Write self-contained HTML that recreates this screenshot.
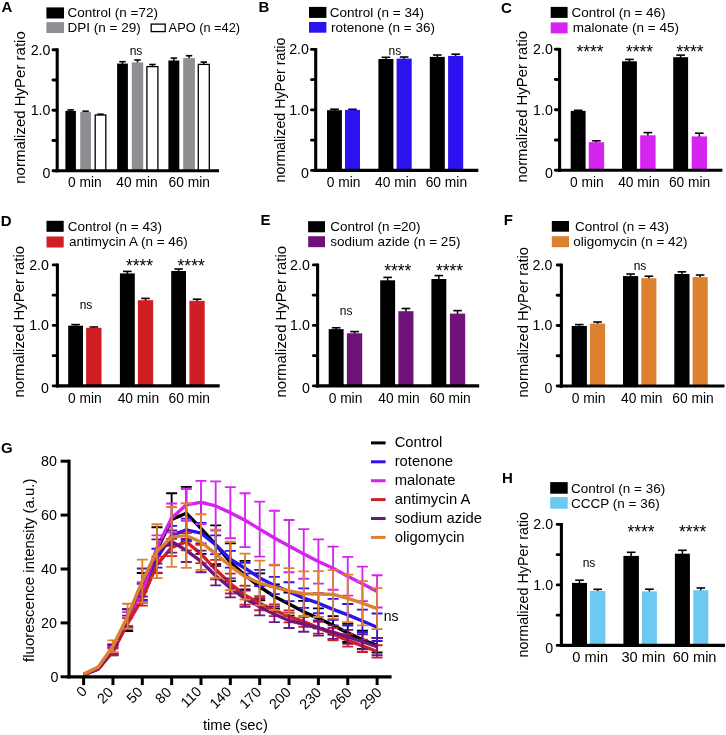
<!DOCTYPE html>
<html><head><meta charset="utf-8"><title>Figure</title>
<style>
html,body{margin:0;padding:0;background:#fff;}
body{width:726px;height:735px;overflow:hidden;font-family:"Liberation Sans", sans-serif;}
svg{display:block;font-family:"Liberation Sans", sans-serif;will-change:transform;}
svg text{fill:#000;font-family:"Liberation Sans", sans-serif;}
</style></head><body>
<svg width="726" height="735" viewBox="0 0 726 735">
<rect x="0" y="0" width="726" height="735" fill="#fff"/>
<g id="panelA">
<line x1="70.65" y1="111.90" x2="70.65" y2="109.90" stroke="#000000" stroke-width="1.5" stroke-linecap="butt"/>
<line x1="67.45" y1="109.90" x2="73.85" y2="109.90" stroke="#000000" stroke-width="1.6" stroke-linecap="butt"/>
<rect x="65.40" y="110.90" width="10.50" height="59.80" fill="#000000"/>
<line x1="85.60" y1="112.90" x2="85.60" y2="111.20" stroke="#000" stroke-width="1.5" stroke-linecap="butt"/>
<line x1="82.40" y1="111.20" x2="88.80" y2="111.20" stroke="#000" stroke-width="1.6" stroke-linecap="butt"/>
<rect x="80.20" y="111.90" width="10.80" height="58.80" fill="#908e93"/>
<line x1="100.50" y1="115.40" x2="100.50" y2="114.20" stroke="#000" stroke-width="1.5" stroke-linecap="butt"/>
<line x1="97.30" y1="114.20" x2="103.70" y2="114.20" stroke="#000" stroke-width="1.6" stroke-linecap="butt"/>
<rect x="95.20" y="115.00" width="10.60" height="55.70" fill="#ffffff" stroke="#000" stroke-width="1.3"/>
<line x1="122.50" y1="64.60" x2="122.50" y2="61.70" stroke="#000000" stroke-width="1.5" stroke-linecap="butt"/>
<line x1="119.30" y1="61.70" x2="125.70" y2="61.70" stroke="#000000" stroke-width="1.6" stroke-linecap="butt"/>
<rect x="117.10" y="63.60" width="10.80" height="107.10" fill="#000000"/>
<line x1="137.50" y1="63.40" x2="137.50" y2="60.00" stroke="#000" stroke-width="1.5" stroke-linecap="butt"/>
<line x1="134.30" y1="60.00" x2="140.70" y2="60.00" stroke="#000" stroke-width="1.6" stroke-linecap="butt"/>
<rect x="131.80" y="62.40" width="11.40" height="108.30" fill="#908e93"/>
<line x1="152.40" y1="67.00" x2="152.40" y2="64.50" stroke="#000" stroke-width="1.5" stroke-linecap="butt"/>
<line x1="149.20" y1="64.50" x2="155.60" y2="64.50" stroke="#000" stroke-width="1.6" stroke-linecap="butt"/>
<rect x="146.90" y="66.60" width="11.00" height="104.10" fill="#ffffff" stroke="#000" stroke-width="1.3"/>
<line x1="173.85" y1="61.50" x2="173.85" y2="58.10" stroke="#000000" stroke-width="1.5" stroke-linecap="butt"/>
<line x1="170.65" y1="58.10" x2="177.05" y2="58.10" stroke="#000000" stroke-width="1.6" stroke-linecap="butt"/>
<rect x="168.40" y="60.50" width="10.90" height="110.20" fill="#000000"/>
<line x1="189.05" y1="59.10" x2="189.05" y2="55.70" stroke="#000" stroke-width="1.5" stroke-linecap="butt"/>
<line x1="185.85" y1="55.70" x2="192.25" y2="55.70" stroke="#000" stroke-width="1.6" stroke-linecap="butt"/>
<rect x="183.20" y="58.10" width="11.70" height="112.60" fill="#908e93"/>
<line x1="203.80" y1="64.80" x2="203.80" y2="62.10" stroke="#000" stroke-width="1.5" stroke-linecap="butt"/>
<line x1="200.60" y1="62.10" x2="207.00" y2="62.10" stroke="#000" stroke-width="1.6" stroke-linecap="butt"/>
<rect x="198.30" y="64.40" width="11.00" height="106.30" fill="#ffffff" stroke="#000" stroke-width="1.3"/>
<line x1="57.20" y1="48.45" x2="57.20" y2="172.25" stroke="#000" stroke-width="3.1" stroke-linecap="butt"/>
<line x1="55.65" y1="170.70" x2="219.00" y2="170.70" stroke="#000" stroke-width="3.1" stroke-linecap="butt"/>
<line x1="53.00" y1="49.70" x2="56.90" y2="49.70" stroke="#000" stroke-width="2.9" stroke-linecap="round"/>
<line x1="53.00" y1="79.95" x2="56.90" y2="79.95" stroke="#000" stroke-width="2.9" stroke-linecap="round"/>
<line x1="53.00" y1="110.20" x2="56.90" y2="110.20" stroke="#000" stroke-width="2.9" stroke-linecap="round"/>
<line x1="53.00" y1="140.45" x2="56.90" y2="140.45" stroke="#000" stroke-width="2.9" stroke-linecap="round"/>
<line x1="53.00" y1="170.70" x2="56.90" y2="170.70" stroke="#000" stroke-width="2.9" stroke-linecap="round"/>
<text x="50.40" y="54.60" font-size="14.2" text-anchor="end" font-weight="normal" >2.0</text>
<text x="50.40" y="115.10" font-size="14.2" text-anchor="end" font-weight="normal" >1.0</text>
<text x="50.40" y="178.10" font-size="14.2" text-anchor="end" font-weight="normal" >0</text>
<text transform="translate(24.50,107.50) rotate(-90)" font-size="15" text-anchor="middle">normalized HyPer ratio</text>
<text x="84.80" y="187.30" font-size="13.8" text-anchor="middle" font-weight="normal" >0 min</text>
<text x="137.00" y="187.30" font-size="13.8" text-anchor="middle" font-weight="normal" >40 min</text>
<text x="189.20" y="187.30" font-size="13.8" text-anchor="middle" font-weight="normal" >60 min</text>
<text x="136.00" y="54.60" font-size="12" text-anchor="middle" font-weight="normal" >ns</text>
<text x="1.60" y="12.00" font-size="15" text-anchor="start" font-weight="bold" >A</text>
<rect x="46.40" y="7.40" width="17.60" height="11.10" fill="#000000"/>
<text x="67.60" y="17.40" font-size="13.5" text-anchor="start" font-weight="normal" >Control (n =72)</text>
<rect x="46.40" y="22.10" width="17.60" height="10.90" fill="#908e93"/>
<text x="67.60" y="31.80" font-size="13.5" text-anchor="start" font-weight="normal" >DPI (n = 29)</text>
<rect x="151.20" y="24.10" width="14.00" height="7.50" fill="#ffffff" stroke="#000" stroke-width="1.3"/>
<text x="168.60" y="31.60" font-size="12.8" text-anchor="start" font-weight="normal" >APO (n =42)</text>
</g>
<g id="panelB">
<line x1="334.45" y1="111.20" x2="334.45" y2="109.20" stroke="#000000" stroke-width="1.5" stroke-linecap="butt"/>
<line x1="330.15" y1="109.20" x2="338.75" y2="109.20" stroke="#000000" stroke-width="1.6" stroke-linecap="butt"/>
<rect x="327.00" y="110.20" width="14.90" height="60.20" fill="#000000"/>
<line x1="352.50" y1="110.90" x2="352.50" y2="109.30" stroke="#000" stroke-width="1.5" stroke-linecap="butt"/>
<line x1="348.20" y1="109.30" x2="356.80" y2="109.30" stroke="#000" stroke-width="1.6" stroke-linecap="butt"/>
<rect x="345.00" y="109.90" width="15.00" height="60.50" fill="#2c12ee"/>
<line x1="385.90" y1="60.00" x2="385.90" y2="57.30" stroke="#000000" stroke-width="1.5" stroke-linecap="butt"/>
<line x1="381.60" y1="57.30" x2="390.20" y2="57.30" stroke="#000000" stroke-width="1.6" stroke-linecap="butt"/>
<rect x="378.40" y="59.00" width="15.00" height="111.40" fill="#000000"/>
<line x1="404.15" y1="59.60" x2="404.15" y2="57.00" stroke="#000" stroke-width="1.5" stroke-linecap="butt"/>
<line x1="399.85" y1="57.00" x2="408.45" y2="57.00" stroke="#000" stroke-width="1.6" stroke-linecap="butt"/>
<rect x="396.60" y="58.60" width="15.10" height="111.80" fill="#2c12ee"/>
<line x1="437.30" y1="57.90" x2="437.30" y2="55.00" stroke="#000000" stroke-width="1.5" stroke-linecap="butt"/>
<line x1="433.00" y1="55.00" x2="441.60" y2="55.00" stroke="#000000" stroke-width="1.6" stroke-linecap="butt"/>
<rect x="429.80" y="56.90" width="15.00" height="113.50" fill="#000000"/>
<line x1="455.65" y1="56.90" x2="455.65" y2="54.20" stroke="#000" stroke-width="1.5" stroke-linecap="butt"/>
<line x1="451.35" y1="54.20" x2="459.95" y2="54.20" stroke="#000" stroke-width="1.6" stroke-linecap="butt"/>
<rect x="448.10" y="55.90" width="15.10" height="114.50" fill="#2c12ee"/>
<line x1="315.70" y1="48.15" x2="315.70" y2="171.95" stroke="#000" stroke-width="3.1" stroke-linecap="butt"/>
<line x1="314.15" y1="170.40" x2="478.30" y2="170.40" stroke="#000" stroke-width="3.1" stroke-linecap="butt"/>
<line x1="311.50" y1="49.40" x2="315.40" y2="49.40" stroke="#000" stroke-width="2.9" stroke-linecap="round"/>
<line x1="311.50" y1="79.65" x2="315.40" y2="79.65" stroke="#000" stroke-width="2.9" stroke-linecap="round"/>
<line x1="311.50" y1="109.90" x2="315.40" y2="109.90" stroke="#000" stroke-width="2.9" stroke-linecap="round"/>
<line x1="311.50" y1="140.15" x2="315.40" y2="140.15" stroke="#000" stroke-width="2.9" stroke-linecap="round"/>
<line x1="311.50" y1="170.40" x2="315.40" y2="170.40" stroke="#000" stroke-width="2.9" stroke-linecap="round"/>
<text x="308.90" y="54.30" font-size="14.2" text-anchor="end" font-weight="normal" >2.0</text>
<text x="308.90" y="114.80" font-size="14.2" text-anchor="end" font-weight="normal" >1.0</text>
<text x="308.90" y="177.80" font-size="14.2" text-anchor="end" font-weight="normal" >0</text>
<text transform="translate(285.00,110.00) rotate(-90)" font-size="14.25" text-anchor="middle">normalized HyPer ratio</text>
<text x="343.60" y="187.00" font-size="13.8" text-anchor="middle" font-weight="normal" >0 min</text>
<text x="395.70" y="187.00" font-size="13.8" text-anchor="middle" font-weight="normal" >40 min</text>
<text x="446.40" y="187.00" font-size="13.8" text-anchor="middle" font-weight="normal" >60 min</text>
<text x="394.80" y="54.80" font-size="12" text-anchor="middle" font-weight="normal" >ns</text>
<text x="258.40" y="12.00" font-size="15" text-anchor="start" font-weight="bold" >B</text>
<rect x="309.00" y="6.90" width="17.40" height="11.00" fill="#000000"/>
<text x="329.80" y="17.20" font-size="13.5" text-anchor="start" font-weight="normal" >Control (n = 34)</text>
<rect x="309.00" y="22.00" width="17.40" height="10.70" fill="#2c12ee"/>
<text x="331.00" y="31.80" font-size="13.5" text-anchor="start" font-weight="normal" >rotenone (n = 36)</text>
</g>
<g id="panelC">
<line x1="578.15" y1="111.90" x2="578.15" y2="110.30" stroke="#000000" stroke-width="1.5" stroke-linecap="butt"/>
<line x1="573.85" y1="110.30" x2="582.45" y2="110.30" stroke="#000000" stroke-width="1.6" stroke-linecap="butt"/>
<rect x="570.70" y="110.90" width="14.90" height="59.40" fill="#000000"/>
<line x1="596.40" y1="143.20" x2="596.40" y2="140.80" stroke="#000" stroke-width="1.5" stroke-linecap="butt"/>
<line x1="592.10" y1="140.80" x2="600.70" y2="140.80" stroke="#000" stroke-width="1.6" stroke-linecap="butt"/>
<rect x="588.70" y="142.20" width="15.40" height="28.10" fill="#d624f0"/>
<line x1="629.45" y1="62.30" x2="629.45" y2="59.40" stroke="#000000" stroke-width="1.5" stroke-linecap="butt"/>
<line x1="625.15" y1="59.40" x2="633.75" y2="59.40" stroke="#000000" stroke-width="1.6" stroke-linecap="butt"/>
<rect x="622.00" y="61.30" width="14.90" height="109.00" fill="#000000"/>
<line x1="647.90" y1="136.30" x2="647.90" y2="132.60" stroke="#000" stroke-width="1.5" stroke-linecap="butt"/>
<line x1="643.60" y1="132.60" x2="652.20" y2="132.60" stroke="#000" stroke-width="1.6" stroke-linecap="butt"/>
<rect x="640.20" y="135.30" width="15.40" height="35.00" fill="#d624f0"/>
<line x1="680.65" y1="58.20" x2="680.65" y2="55.10" stroke="#000000" stroke-width="1.5" stroke-linecap="butt"/>
<line x1="676.35" y1="55.10" x2="684.95" y2="55.10" stroke="#000000" stroke-width="1.6" stroke-linecap="butt"/>
<rect x="673.20" y="57.20" width="14.90" height="113.10" fill="#000000"/>
<line x1="699.35" y1="137.40" x2="699.35" y2="133.20" stroke="#000" stroke-width="1.5" stroke-linecap="butt"/>
<line x1="695.05" y1="133.20" x2="703.65" y2="133.20" stroke="#000" stroke-width="1.6" stroke-linecap="butt"/>
<rect x="691.70" y="136.40" width="15.30" height="33.90" fill="#d624f0"/>
<line x1="559.60" y1="48.05" x2="559.60" y2="171.85" stroke="#000" stroke-width="3.1" stroke-linecap="butt"/>
<line x1="558.05" y1="170.30" x2="722.40" y2="170.30" stroke="#000" stroke-width="3.1" stroke-linecap="butt"/>
<line x1="555.40" y1="49.30" x2="559.30" y2="49.30" stroke="#000" stroke-width="2.9" stroke-linecap="round"/>
<line x1="555.40" y1="79.55" x2="559.30" y2="79.55" stroke="#000" stroke-width="2.9" stroke-linecap="round"/>
<line x1="555.40" y1="109.80" x2="559.30" y2="109.80" stroke="#000" stroke-width="2.9" stroke-linecap="round"/>
<line x1="555.40" y1="140.05" x2="559.30" y2="140.05" stroke="#000" stroke-width="2.9" stroke-linecap="round"/>
<line x1="555.40" y1="170.30" x2="559.30" y2="170.30" stroke="#000" stroke-width="2.9" stroke-linecap="round"/>
<text x="552.80" y="54.20" font-size="14.2" text-anchor="end" font-weight="normal" >2.0</text>
<text x="552.80" y="114.70" font-size="14.2" text-anchor="end" font-weight="normal" >1.0</text>
<text x="552.80" y="177.70" font-size="14.2" text-anchor="end" font-weight="normal" >0</text>
<text transform="translate(527.20,106.70) rotate(-90)" font-size="14.9" text-anchor="middle">normalized HyPer ratio</text>
<text x="586.80" y="186.90" font-size="13.8" text-anchor="middle" font-weight="normal" >0 min</text>
<text x="638.90" y="186.90" font-size="13.8" text-anchor="middle" font-weight="normal" >40 min</text>
<text x="689.60" y="186.90" font-size="13.8" text-anchor="middle" font-weight="normal" >60 min</text>
<text x="590.00" y="57.90" font-size="17.5" text-anchor="middle" font-weight="normal" >****</text>
<text x="639.50" y="57.90" font-size="17.5" text-anchor="middle" font-weight="normal" >****</text>
<text x="690.00" y="57.90" font-size="17.5" text-anchor="middle" font-weight="normal" >****</text>
<text x="501.00" y="12.70" font-size="15" text-anchor="start" font-weight="bold" >C</text>
<rect x="550.70" y="6.90" width="16.90" height="11.00" fill="#000000"/>
<text x="571.40" y="17.20" font-size="13.5" text-anchor="start" font-weight="normal" >Control (n = 46)</text>
<rect x="550.70" y="22.40" width="16.90" height="11.00" fill="#d624f0"/>
<text x="572.80" y="32.00" font-size="13.5" text-anchor="start" font-weight="normal" >malonate (n = 45)</text>
</g>
<g id="panelD">
<line x1="75.60" y1="326.70" x2="75.60" y2="324.60" stroke="#000000" stroke-width="1.5" stroke-linecap="butt"/>
<line x1="71.30" y1="324.60" x2="79.90" y2="324.60" stroke="#000000" stroke-width="1.6" stroke-linecap="butt"/>
<rect x="68.20" y="325.70" width="14.80" height="60.20" fill="#000000"/>
<line x1="93.80" y1="328.80" x2="93.80" y2="327.00" stroke="#000" stroke-width="1.5" stroke-linecap="butt"/>
<line x1="89.50" y1="327.00" x2="98.10" y2="327.00" stroke="#000" stroke-width="1.6" stroke-linecap="butt"/>
<rect x="86.10" y="327.80" width="15.40" height="58.10" fill="#cf1f24"/>
<line x1="127.35" y1="274.40" x2="127.35" y2="271.40" stroke="#000000" stroke-width="1.5" stroke-linecap="butt"/>
<line x1="123.05" y1="271.40" x2="131.65" y2="271.40" stroke="#000000" stroke-width="1.6" stroke-linecap="butt"/>
<rect x="119.90" y="273.40" width="14.90" height="112.50" fill="#000000"/>
<line x1="145.55" y1="301.20" x2="145.55" y2="298.40" stroke="#000" stroke-width="1.5" stroke-linecap="butt"/>
<line x1="141.25" y1="298.40" x2="149.85" y2="298.40" stroke="#000" stroke-width="1.6" stroke-linecap="butt"/>
<rect x="137.90" y="300.20" width="15.30" height="85.70" fill="#cf1f24"/>
<line x1="178.60" y1="272.00" x2="178.60" y2="269.00" stroke="#000000" stroke-width="1.5" stroke-linecap="butt"/>
<line x1="174.30" y1="269.00" x2="182.90" y2="269.00" stroke="#000000" stroke-width="1.6" stroke-linecap="butt"/>
<rect x="171.20" y="271.00" width="14.80" height="114.90" fill="#000000"/>
<line x1="197.05" y1="301.80" x2="197.05" y2="299.20" stroke="#000" stroke-width="1.5" stroke-linecap="butt"/>
<line x1="192.75" y1="299.20" x2="201.35" y2="299.20" stroke="#000" stroke-width="1.6" stroke-linecap="butt"/>
<rect x="189.40" y="300.80" width="15.30" height="85.10" fill="#cf1f24"/>
<line x1="57.40" y1="263.65" x2="57.40" y2="387.45" stroke="#000" stroke-width="3.1" stroke-linecap="butt"/>
<line x1="55.85" y1="385.90" x2="219.70" y2="385.90" stroke="#000" stroke-width="3.1" stroke-linecap="butt"/>
<line x1="53.20" y1="264.90" x2="57.10" y2="264.90" stroke="#000" stroke-width="2.9" stroke-linecap="round"/>
<line x1="53.20" y1="295.15" x2="57.10" y2="295.15" stroke="#000" stroke-width="2.9" stroke-linecap="round"/>
<line x1="53.20" y1="325.40" x2="57.10" y2="325.40" stroke="#000" stroke-width="2.9" stroke-linecap="round"/>
<line x1="53.20" y1="355.65" x2="57.10" y2="355.65" stroke="#000" stroke-width="2.9" stroke-linecap="round"/>
<line x1="53.20" y1="385.90" x2="57.10" y2="385.90" stroke="#000" stroke-width="2.9" stroke-linecap="round"/>
<text x="48.90" y="269.80" font-size="14.2" text-anchor="end" font-weight="normal" >2.0</text>
<text x="48.90" y="330.30" font-size="14.2" text-anchor="end" font-weight="normal" >1.0</text>
<text x="48.90" y="393.30" font-size="14.2" text-anchor="end" font-weight="normal" >0</text>
<text transform="translate(24.40,321.70) rotate(-90)" font-size="14.9" text-anchor="middle">normalized HyPer ratio</text>
<text x="84.80" y="402.50" font-size="13.8" text-anchor="middle" font-weight="normal" >0 min</text>
<text x="138.40" y="402.50" font-size="13.8" text-anchor="middle" font-weight="normal" >40 min</text>
<text x="189.20" y="402.50" font-size="13.8" text-anchor="middle" font-weight="normal" >60 min</text>
<text x="86.00" y="308.90" font-size="12" text-anchor="middle" font-weight="normal" >ns</text>
<text x="139.50" y="272.30" font-size="17.5" text-anchor="middle" font-weight="normal" >****</text>
<text x="191.20" y="272.30" font-size="17.5" text-anchor="middle" font-weight="normal" >****</text>
<text x="0.80" y="226.20" font-size="15" text-anchor="start" font-weight="bold" >D</text>
<rect x="46.50" y="220.80" width="17.20" height="11.00" fill="#000000"/>
<text x="67.80" y="230.60" font-size="13.5" text-anchor="start" font-weight="normal" >Control (n = 43)</text>
<rect x="46.50" y="236.50" width="17.20" height="11.00" fill="#cf1f24"/>
<text x="68.90" y="245.60" font-size="13.5" text-anchor="start" font-weight="normal" >antimycin A (n = 46)</text>
</g>
<g id="panelE">
<line x1="336.15" y1="330.10" x2="336.15" y2="327.80" stroke="#000000" stroke-width="1.5" stroke-linecap="butt"/>
<line x1="331.85" y1="327.80" x2="340.45" y2="327.80" stroke="#000000" stroke-width="1.6" stroke-linecap="butt"/>
<rect x="328.70" y="329.10" width="14.90" height="56.80" fill="#000000"/>
<line x1="354.55" y1="334.30" x2="354.55" y2="331.60" stroke="#000" stroke-width="1.5" stroke-linecap="butt"/>
<line x1="350.25" y1="331.60" x2="358.85" y2="331.60" stroke="#000" stroke-width="1.6" stroke-linecap="butt"/>
<rect x="346.90" y="333.30" width="15.30" height="52.60" fill="#6f1277"/>
<line x1="387.65" y1="281.30" x2="387.65" y2="277.40" stroke="#000000" stroke-width="1.5" stroke-linecap="butt"/>
<line x1="383.35" y1="277.40" x2="391.95" y2="277.40" stroke="#000000" stroke-width="1.6" stroke-linecap="butt"/>
<rect x="380.20" y="280.30" width="14.90" height="105.60" fill="#000000"/>
<line x1="405.95" y1="312.20" x2="405.95" y2="308.50" stroke="#000" stroke-width="1.5" stroke-linecap="butt"/>
<line x1="401.65" y1="308.50" x2="410.25" y2="308.50" stroke="#000" stroke-width="1.6" stroke-linecap="butt"/>
<rect x="398.40" y="311.20" width="15.10" height="74.70" fill="#6f1277"/>
<line x1="438.85" y1="280.00" x2="438.85" y2="275.60" stroke="#000000" stroke-width="1.5" stroke-linecap="butt"/>
<line x1="434.55" y1="275.60" x2="443.15" y2="275.60" stroke="#000000" stroke-width="1.6" stroke-linecap="butt"/>
<rect x="431.40" y="279.00" width="14.90" height="106.90" fill="#000000"/>
<line x1="457.55" y1="314.60" x2="457.55" y2="310.60" stroke="#000" stroke-width="1.5" stroke-linecap="butt"/>
<line x1="453.25" y1="310.60" x2="461.85" y2="310.60" stroke="#000" stroke-width="1.6" stroke-linecap="butt"/>
<rect x="449.90" y="313.60" width="15.30" height="72.30" fill="#6f1277"/>
<line x1="317.60" y1="263.65" x2="317.60" y2="387.45" stroke="#000" stroke-width="3.1" stroke-linecap="butt"/>
<line x1="316.05" y1="385.90" x2="479.20" y2="385.90" stroke="#000" stroke-width="3.1" stroke-linecap="butt"/>
<line x1="313.40" y1="264.90" x2="317.30" y2="264.90" stroke="#000" stroke-width="2.9" stroke-linecap="round"/>
<line x1="313.40" y1="295.15" x2="317.30" y2="295.15" stroke="#000" stroke-width="2.9" stroke-linecap="round"/>
<line x1="313.40" y1="325.40" x2="317.30" y2="325.40" stroke="#000" stroke-width="2.9" stroke-linecap="round"/>
<line x1="313.40" y1="355.65" x2="317.30" y2="355.65" stroke="#000" stroke-width="2.9" stroke-linecap="round"/>
<line x1="313.40" y1="385.90" x2="317.30" y2="385.90" stroke="#000" stroke-width="2.9" stroke-linecap="round"/>
<text x="309.80" y="269.80" font-size="14.2" text-anchor="end" font-weight="normal" >2.0</text>
<text x="309.80" y="330.30" font-size="14.2" text-anchor="end" font-weight="normal" >1.0</text>
<text x="309.80" y="393.30" font-size="14.2" text-anchor="end" font-weight="normal" >0</text>
<text transform="translate(286.10,321.70) rotate(-90)" font-size="14.9" text-anchor="middle">normalized HyPer ratio</text>
<text x="345.50" y="402.50" font-size="13.8" text-anchor="middle" font-weight="normal" >0 min</text>
<text x="399.00" y="402.50" font-size="13.8" text-anchor="middle" font-weight="normal" >40 min</text>
<text x="450.10" y="402.50" font-size="13.8" text-anchor="middle" font-weight="normal" >60 min</text>
<text x="346.20" y="315.20" font-size="12" text-anchor="middle" font-weight="normal" >ns</text>
<text x="397.80" y="276.60" font-size="17.5" text-anchor="middle" font-weight="normal" >****</text>
<text x="449.50" y="276.60" font-size="17.5" text-anchor="middle" font-weight="normal" >****</text>
<text x="260.60" y="224.70" font-size="15" text-anchor="start" font-weight="bold" >E</text>
<rect x="308.10" y="221.20" width="16.90" height="11.10" fill="#000000"/>
<text x="330.20" y="231.00" font-size="13.5" text-anchor="start" font-weight="normal" >Control (n =20)</text>
<rect x="308.20" y="236.20" width="16.80" height="11.00" fill="#6f1277"/>
<text x="330.20" y="246.00" font-size="13.5" text-anchor="start" font-weight="normal" >sodium azide (n = 25)</text>
</g>
<g id="panelF">
<line x1="579.30" y1="327.00" x2="579.30" y2="324.60" stroke="#000000" stroke-width="1.5" stroke-linecap="butt"/>
<line x1="575.00" y1="324.60" x2="583.60" y2="324.60" stroke="#000000" stroke-width="1.6" stroke-linecap="butt"/>
<rect x="571.70" y="326.00" width="15.20" height="60.00" fill="#000000"/>
<line x1="597.55" y1="324.60" x2="597.55" y2="322.00" stroke="#000" stroke-width="1.5" stroke-linecap="butt"/>
<line x1="593.25" y1="322.00" x2="601.85" y2="322.00" stroke="#000" stroke-width="1.6" stroke-linecap="butt"/>
<rect x="590.00" y="323.60" width="15.10" height="62.40" fill="#dd8130"/>
<line x1="630.60" y1="277.10" x2="630.60" y2="274.00" stroke="#000000" stroke-width="1.5" stroke-linecap="butt"/>
<line x1="626.30" y1="274.00" x2="634.90" y2="274.00" stroke="#000000" stroke-width="1.6" stroke-linecap="butt"/>
<rect x="623.00" y="276.10" width="15.20" height="109.90" fill="#000000"/>
<line x1="648.85" y1="279.20" x2="648.85" y2="276.20" stroke="#000" stroke-width="1.5" stroke-linecap="butt"/>
<line x1="644.55" y1="276.20" x2="653.15" y2="276.20" stroke="#000" stroke-width="1.6" stroke-linecap="butt"/>
<rect x="641.30" y="278.20" width="15.10" height="107.80" fill="#dd8130"/>
<line x1="681.90" y1="275.00" x2="681.90" y2="271.80" stroke="#000000" stroke-width="1.5" stroke-linecap="butt"/>
<line x1="677.60" y1="271.80" x2="686.20" y2="271.80" stroke="#000000" stroke-width="1.6" stroke-linecap="butt"/>
<rect x="674.30" y="274.00" width="15.20" height="112.00" fill="#000000"/>
<line x1="700.15" y1="278.10" x2="700.15" y2="275.00" stroke="#000" stroke-width="1.5" stroke-linecap="butt"/>
<line x1="695.85" y1="275.00" x2="704.45" y2="275.00" stroke="#000" stroke-width="1.6" stroke-linecap="butt"/>
<rect x="692.60" y="277.10" width="15.10" height="108.90" fill="#dd8130"/>
<line x1="561.40" y1="263.75" x2="561.40" y2="387.55" stroke="#000" stroke-width="3.1" stroke-linecap="butt"/>
<line x1="559.85" y1="386.00" x2="724.50" y2="386.00" stroke="#000" stroke-width="3.1" stroke-linecap="butt"/>
<line x1="557.20" y1="265.00" x2="561.10" y2="265.00" stroke="#000" stroke-width="2.9" stroke-linecap="round"/>
<line x1="557.20" y1="295.25" x2="561.10" y2="295.25" stroke="#000" stroke-width="2.9" stroke-linecap="round"/>
<line x1="557.20" y1="325.50" x2="561.10" y2="325.50" stroke="#000" stroke-width="2.9" stroke-linecap="round"/>
<line x1="557.20" y1="355.75" x2="561.10" y2="355.75" stroke="#000" stroke-width="2.9" stroke-linecap="round"/>
<line x1="557.20" y1="386.00" x2="561.10" y2="386.00" stroke="#000" stroke-width="2.9" stroke-linecap="round"/>
<text x="552.30" y="269.90" font-size="14.2" text-anchor="end" font-weight="normal" >2.0</text>
<text x="552.30" y="330.40" font-size="14.2" text-anchor="end" font-weight="normal" >1.0</text>
<text x="552.30" y="393.40" font-size="14.2" text-anchor="end" font-weight="normal" >0</text>
<text transform="translate(527.80,322.20) rotate(-90)" font-size="14.8" text-anchor="middle">normalized HyPer ratio</text>
<text x="588.60" y="402.60" font-size="13.8" text-anchor="middle" font-weight="normal" >0 min</text>
<text x="641.80" y="402.60" font-size="13.8" text-anchor="middle" font-weight="normal" >40 min</text>
<text x="693.00" y="402.60" font-size="13.8" text-anchor="middle" font-weight="normal" >60 min</text>
<text x="640.00" y="269.80" font-size="12" text-anchor="middle" font-weight="normal" >ns</text>
<text x="503.80" y="224.70" font-size="15" text-anchor="start" font-weight="bold" >F</text>
<rect x="551.80" y="221.00" width="17.20" height="10.70" fill="#000000"/>
<text x="574.90" y="231.00" font-size="13.5" text-anchor="start" font-weight="normal" >Control (n = 43)</text>
<rect x="551.80" y="236.20" width="17.20" height="11.00" fill="#dd8130"/>
<text x="573.20" y="246.00" font-size="13.5" text-anchor="start" font-weight="normal" >oligomycin (n = 42)</text>
</g>
<g id="panelH">
<line x1="579.50" y1="583.90" x2="579.50" y2="580.20" stroke="#000000" stroke-width="1.5" stroke-linecap="butt"/>
<line x1="575.20" y1="580.20" x2="583.80" y2="580.20" stroke="#000000" stroke-width="1.6" stroke-linecap="butt"/>
<rect x="572.00" y="582.90" width="15.00" height="62.50" fill="#000000"/>
<line x1="597.70" y1="592.00" x2="597.70" y2="589.30" stroke="#000" stroke-width="1.5" stroke-linecap="butt"/>
<line x1="593.40" y1="589.30" x2="602.00" y2="589.30" stroke="#000" stroke-width="1.6" stroke-linecap="butt"/>
<rect x="590.00" y="591.00" width="15.40" height="54.40" fill="#6ccaf0"/>
<line x1="631.15" y1="556.90" x2="631.15" y2="552.30" stroke="#000000" stroke-width="1.5" stroke-linecap="butt"/>
<line x1="626.85" y1="552.30" x2="635.45" y2="552.30" stroke="#000000" stroke-width="1.6" stroke-linecap="butt"/>
<rect x="623.40" y="555.90" width="15.50" height="89.50" fill="#000000"/>
<line x1="649.40" y1="592.40" x2="649.40" y2="589.20" stroke="#000" stroke-width="1.5" stroke-linecap="butt"/>
<line x1="645.10" y1="589.20" x2="653.70" y2="589.20" stroke="#000" stroke-width="1.6" stroke-linecap="butt"/>
<rect x="641.90" y="591.40" width="15.00" height="54.00" fill="#6ccaf0"/>
<line x1="682.40" y1="554.70" x2="682.40" y2="550.30" stroke="#000000" stroke-width="1.5" stroke-linecap="butt"/>
<line x1="678.10" y1="550.30" x2="686.70" y2="550.30" stroke="#000000" stroke-width="1.6" stroke-linecap="butt"/>
<rect x="674.90" y="553.70" width="15.00" height="91.70" fill="#000000"/>
<line x1="700.80" y1="591.20" x2="700.80" y2="588.00" stroke="#000" stroke-width="1.5" stroke-linecap="butt"/>
<line x1="696.50" y1="588.00" x2="705.10" y2="588.00" stroke="#000" stroke-width="1.6" stroke-linecap="butt"/>
<rect x="693.30" y="590.20" width="15.00" height="55.20" fill="#6ccaf0"/>
<line x1="561.40" y1="523.15" x2="561.40" y2="646.95" stroke="#000" stroke-width="3.1" stroke-linecap="butt"/>
<line x1="559.85" y1="645.40" x2="725.00" y2="645.40" stroke="#000" stroke-width="3.1" stroke-linecap="butt"/>
<line x1="557.20" y1="524.40" x2="561.10" y2="524.40" stroke="#000" stroke-width="2.9" stroke-linecap="round"/>
<line x1="557.20" y1="554.65" x2="561.10" y2="554.65" stroke="#000" stroke-width="2.9" stroke-linecap="round"/>
<line x1="557.20" y1="584.90" x2="561.10" y2="584.90" stroke="#000" stroke-width="2.9" stroke-linecap="round"/>
<line x1="557.20" y1="615.15" x2="561.10" y2="615.15" stroke="#000" stroke-width="2.9" stroke-linecap="round"/>
<line x1="557.20" y1="645.40" x2="561.10" y2="645.40" stroke="#000" stroke-width="2.9" stroke-linecap="round"/>
<text x="553.10" y="529.30" font-size="14.2" text-anchor="end" font-weight="normal" >2.0</text>
<text x="553.10" y="589.80" font-size="14.2" text-anchor="end" font-weight="normal" >1.0</text>
<text x="553.10" y="652.80" font-size="14.2" text-anchor="end" font-weight="normal" >0</text>
<text transform="translate(528.20,584.70) rotate(-90)" font-size="14.3" text-anchor="middle">normalized HyPer ratio</text>
<text x="590.20" y="662.10" font-size="14.6" text-anchor="middle" font-weight="normal" >0 min</text>
<text x="643.40" y="662.10" font-size="14.6" text-anchor="middle" font-weight="normal" >30 min</text>
<text x="694.60" y="662.10" font-size="14.6" text-anchor="middle" font-weight="normal" >60 min</text>
<text x="589.00" y="567.40" font-size="12" text-anchor="middle" font-weight="normal" >ns</text>
<text x="641.00" y="537.70" font-size="17.5" text-anchor="middle" font-weight="normal" >****</text>
<text x="692.70" y="537.70" font-size="17.5" text-anchor="middle" font-weight="normal" >****</text>
<text x="502.00" y="482.60" font-size="15" text-anchor="start" font-weight="bold" >H</text>
<rect x="550.20" y="482.10" width="17.50" height="11.60" fill="#000000"/>
<text x="571.10" y="493.00" font-size="13.5" text-anchor="start" font-weight="normal" >Control (n = 36)</text>
<rect x="550.20" y="497.10" width="17.50" height="11.60" fill="#6ccaf0"/>
<text x="571.10" y="508.00" font-size="13.5" text-anchor="start" font-weight="normal" >CCCP (n = 36)</text>
</g>
<g id="panelG">
<path d="M112.95 644.46V655.24M107.45 644.46H118.45M107.45 655.24H118.45M127.62 609.42V630.99M122.12 609.42H133.12M122.12 630.99H133.12M142.30 573.04V602.69M136.80 573.04H147.80M136.80 602.69H147.80M156.97 527.23V573.04M151.47 527.23H162.47M151.47 573.04H162.47M171.65 493.27V545.55M166.15 493.27H177.15M166.15 545.55H177.15M186.32 486.80V539.62M180.82 486.80H191.82M180.82 539.62H191.82M201.00 502.70V553.91M195.50 502.70H206.50M195.50 553.91H206.50M215.68 525.34V564.15M210.18 525.34H221.18M210.18 564.15H221.18M230.35 543.40V581.13M224.85 543.40H235.85M224.85 581.13H235.85M245.03 560.91V589.48M239.53 560.91H250.53M239.53 589.48H250.53M259.70 573.31V600.26M254.20 573.31H265.20M254.20 600.26H265.20M274.38 584.36V608.62M268.88 584.36H279.88M268.88 608.62H279.88M289.05 592.45V615.62M283.55 592.45H294.55M283.55 615.62H294.55M303.73 600.80V622.90M298.23 600.80H309.23M298.23 622.90H309.23M318.40 608.35V628.29M312.90 608.35H323.90M312.90 628.29H323.90M333.08 616.16V634.49M327.58 616.16H338.58M327.58 634.49H338.58M347.75 623.71V642.03M342.25 623.71H353.25M342.25 642.03H353.25M362.42 630.72V649.04M356.92 630.72H367.92M356.92 649.04H367.92M377.10 637.99V652.54M371.60 637.99H382.60M371.60 652.54H382.60" stroke="#000000" stroke-width="1.85" fill="none"/>
<polyline points="83.60,674.64 98.27,668.71 112.95,649.85 127.62,620.20 142.30,587.87 156.97,550.13 171.65,519.41 186.32,513.21 201.00,528.31 215.68,544.75 230.35,562.26 245.03,575.20 259.70,586.79 274.38,596.49 289.05,604.03 303.73,611.85 318.40,618.32 333.08,625.33 347.75,632.87 362.42,639.88 377.10,645.27" stroke="#000000" stroke-width="3.4" fill="none" stroke-linejoin="round" stroke-linecap="butt"/>
<path d="M112.95 647.15V653.62M107.45 647.15H118.45M107.45 653.62H118.45M127.62 615.62V627.48M122.12 615.62H133.12M122.12 627.48H133.12M142.30 583.82V599.99M136.80 583.82H147.80M136.80 599.99H147.80M156.97 548.79V567.65M151.47 548.79H162.47M151.47 567.65H162.47M171.65 525.88V544.75M166.15 525.88H177.15M166.15 544.75H177.15M186.32 518.60V541.24M180.82 518.60H191.82M180.82 541.24H191.82M201.00 522.92V543.40M195.50 522.92H206.50M195.50 543.40H206.50M215.68 535.31V554.18M210.18 535.31H221.18M210.18 554.18H221.18M230.35 550.94V567.65M224.85 550.94H235.85M224.85 567.65H235.85M245.03 562.80V573.58M239.53 562.80H250.53M239.53 573.58H250.53M259.70 569.81V585.98M254.20 569.81H265.20M254.20 585.98H265.20M274.38 576.82V594.06M268.88 576.82H279.88M268.88 594.06H279.88M289.05 582.21V601.07M283.55 582.21H294.55M283.55 601.07H294.55M303.73 588.40V607.81M298.23 588.40H309.23M298.23 607.81H309.23M318.40 593.25V613.20M312.90 593.25H323.90M312.90 613.20H323.90M333.08 598.91V619.94M327.58 598.91H338.58M327.58 619.94H338.58M347.75 604.03V625.59M342.25 604.03H353.25M342.25 625.59H353.25M362.42 609.69V632.33M356.92 609.69H367.92M356.92 632.33H367.92M377.10 613.47V640.96M371.60 613.47H382.60M371.60 640.96H382.60" stroke="#2c12ee" stroke-width="1.85" fill="none"/>
<polyline points="83.60,674.64 98.27,668.71 112.95,650.39 127.62,621.55 142.30,591.91 156.97,558.22 171.65,535.31 186.32,529.92 201.00,533.16 215.68,544.75 230.35,559.30 245.03,568.19 259.70,577.89 274.38,585.44 289.05,591.64 303.73,598.11 318.40,603.23 333.08,609.42 347.75,614.81 362.42,621.01 377.10,627.21" stroke="#2c12ee" stroke-width="3.4" fill="none" stroke-linejoin="round" stroke-linecap="butt"/>
<path d="M112.95 645.81V653.89M107.45 645.81H118.45M107.45 653.89H118.45M127.62 612.12V628.29M122.12 612.12H133.12M122.12 628.29H133.12M142.30 582.21V601.61M136.80 582.21H147.80M136.80 601.61H147.80M156.97 535.31V559.57M151.47 535.31H162.47M151.47 559.57H162.47M171.65 503.51V532.62M166.15 503.51H177.15M166.15 532.62H177.15M186.32 488.96V520.76M180.82 488.96H191.82M180.82 520.76H191.82M201.00 480.87V523.99M195.50 480.87H206.50M195.50 523.99H206.50M215.68 481.41V530.46M210.18 481.41H221.18M210.18 530.46H221.18M230.35 487.07V538.28M224.85 487.07H235.85M224.85 538.28H235.85M245.03 493.27V547.17M239.53 493.27H250.53M239.53 547.17H250.53M259.70 501.62V556.60M254.20 501.62H265.20M254.20 556.60H265.20M274.38 510.79V565.23M268.88 510.79H279.88M268.88 565.23H279.88M289.05 519.95V572.23M283.55 519.95H294.55M283.55 572.23H294.55M303.73 529.11V578.70M298.23 529.11H309.23M298.23 578.70H309.23M318.40 539.36V583.55M312.90 539.36H323.90M312.90 583.55H323.90M333.08 546.63V589.75M327.58 546.63H338.58M327.58 589.75H338.58M347.75 556.87V595.68M342.25 556.87H353.25M342.25 595.68H353.25M362.42 566.57V601.07M356.92 566.57H367.92M356.92 601.07H367.92M377.10 575.20V607.54M371.60 575.20H382.60M371.60 607.54H382.60" stroke="#d624f0" stroke-width="1.85" fill="none"/>
<polyline points="83.60,674.64 98.27,668.71 112.95,649.85 127.62,620.20 142.30,591.91 156.97,547.44 171.65,518.06 186.32,504.86 201.00,502.43 215.68,505.94 230.35,512.67 245.03,520.22 259.70,529.11 274.38,538.01 289.05,546.09 303.73,553.91 318.40,561.45 333.08,568.19 347.75,576.28 362.42,583.82 377.10,591.37" stroke="#d624f0" stroke-width="3.4" fill="none" stroke-linejoin="round" stroke-linecap="butt"/>
<path d="M112.95 648.50V654.97M107.45 648.50H118.45M107.45 654.97H118.45M127.62 618.05V628.83M122.12 618.05H133.12M122.12 628.83H133.12M142.30 591.64V605.65M136.80 591.64H147.80M136.80 605.65H147.80M156.97 556.60V572.77M151.47 556.60H162.47M151.47 572.77H162.47M171.65 538.82V556.06M166.15 538.82H177.15M166.15 556.06H177.15M186.32 533.16V550.40M180.82 533.16H191.82M180.82 550.40H191.82M201.00 544.75V563.07M195.50 544.75H206.50M195.50 563.07H206.50M215.68 559.84V579.24M210.18 559.84H221.18M210.18 579.24H221.18M230.35 573.58V593.52M224.85 573.58H235.85M224.85 593.52H235.85M245.03 585.71V604.57M239.53 585.71H250.53M239.53 604.57H250.53M259.70 596.22V610.23M254.20 596.22H265.20M254.20 610.23H265.20M274.38 604.30V616.16M268.88 604.30H279.88M268.88 616.16H279.88M289.05 610.50V622.36M283.55 610.50H294.55M283.55 622.36H294.55M303.73 616.16V626.94M298.23 616.16H309.23M298.23 626.94H309.23M318.40 621.82V633.68M312.90 621.82H323.90M312.90 633.68H323.90M333.08 628.02V640.42M327.58 628.02H338.58M327.58 640.42H338.58M347.75 634.22V646.62M342.25 634.22H353.25M342.25 646.62H353.25M362.42 639.61V652.01M356.92 639.61H367.92M356.92 652.01H367.92M377.10 645.27V657.67M371.60 645.27H382.60M371.60 657.67H382.60" stroke="#cf1f24" stroke-width="1.85" fill="none"/>
<polyline points="83.60,674.64 98.27,669.25 112.95,651.74 127.62,623.44 142.30,598.64 156.97,564.69 171.65,547.44 186.32,541.78 201.00,553.91 215.68,569.54 230.35,583.55 245.03,595.14 259.70,603.23 274.38,610.23 289.05,616.43 303.73,621.55 318.40,627.75 333.08,634.22 347.75,640.42 362.42,645.81 377.10,651.47" stroke="#cf1f24" stroke-width="3.4" fill="none" stroke-linejoin="round" stroke-linecap="butt"/>
<path d="M112.95 645.00V653.62M107.45 645.00H118.45M107.45 653.62H118.45M127.62 608.89V626.13M122.12 608.89H133.12M122.12 626.13H133.12M142.30 568.46V596.49M136.80 568.46H147.80M136.80 596.49H147.80M156.97 539.36V563.61M151.47 539.36H162.47M151.47 563.61H162.47M171.65 530.46V552.56M166.15 530.46H177.15M166.15 552.56H177.15M186.32 538.82V561.99M180.82 538.82H191.82M180.82 561.99H191.82M201.00 550.67V572.23M195.50 550.67H206.50M195.50 572.23H206.50M215.68 566.04V585.44M210.18 566.04H221.18M210.18 585.44H221.18M230.35 578.43V597.30M224.85 578.43H235.85M224.85 597.30H235.85M245.03 590.56V606.73M239.53 590.56H250.53M239.53 606.73H250.53M259.70 598.11V615.35M254.20 598.11H265.20M254.20 615.35H265.20M274.38 606.46V622.09M268.88 606.46H279.88M268.88 622.09H279.88M289.05 612.93V628.02M283.55 612.93H294.55M283.55 628.02H294.55M303.73 616.70V631.79M298.23 616.70H309.23M298.23 631.79H309.23M318.40 620.47V635.57M312.90 620.47H323.90M312.90 635.57H323.90M333.08 625.33V638.80M327.58 625.33H338.58M327.58 638.80H338.58M347.75 629.91V643.92M342.25 629.91H353.25M342.25 643.92H353.25M362.42 634.22V649.31M356.92 634.22H367.92M356.92 649.31H367.92M377.10 637.99V655.24M371.60 637.99H382.60M371.60 655.24H382.60" stroke="#6d1680" stroke-width="1.85" fill="none"/>
<polyline points="83.60,674.64 98.27,668.71 112.95,649.31 127.62,617.51 142.30,582.47 156.97,551.48 171.65,541.51 186.32,550.40 201.00,561.45 215.68,575.74 230.35,587.87 245.03,598.64 259.70,606.73 274.38,614.28 289.05,620.47 303.73,624.25 318.40,628.02 333.08,632.06 347.75,636.91 362.42,641.76 377.10,646.62" stroke="#6d1680" stroke-width="3.4" fill="none" stroke-linejoin="round" stroke-linecap="butt"/>
<path d="M112.95 640.42V652.28M107.45 640.42H118.45M107.45 652.28H118.45M127.62 603.77V628.56M122.12 603.77H133.12M122.12 628.56H133.12M142.30 559.57V602.69M136.80 559.57H147.80M136.80 602.69H147.80M156.97 524.26V578.16M151.47 524.26H162.47M151.47 578.16H162.47M171.65 507.01V566.84M166.15 507.01H177.15M166.15 566.84H177.15M186.32 503.24V567.92M180.82 503.24H191.82M180.82 567.92H191.82M201.00 514.29V569.81M195.50 514.29H206.50M195.50 569.81H206.50M215.68 529.65V578.16M210.18 529.65H221.18M210.18 578.16H221.18M230.35 541.78V590.29M224.85 541.78H235.85M224.85 590.29H235.85M245.03 553.64V599.45M239.53 553.64H250.53M239.53 599.45H250.53M259.70 560.65V605.38M254.20 560.65H265.20M254.20 605.38H265.20M274.38 564.69V609.96M268.88 564.69H279.88M268.88 609.96H279.88M289.05 568.19V613.47M283.55 568.19H294.55M283.55 613.47H294.55M303.73 571.43V616.16M298.23 571.43H309.23M298.23 616.16H309.23M318.40 571.16V616.97M312.90 571.16H323.90M312.90 616.97H323.90M333.08 570.08V618.59M327.58 570.08H338.58M327.58 618.59H338.58M347.75 574.66V622.09M342.25 574.66H353.25M342.25 622.09H353.25M362.42 581.13V625.33M356.92 581.13H367.92M356.92 625.33H367.92M377.10 588.13V629.10M371.60 588.13H382.60M371.60 629.10H382.60" stroke="#dd8130" stroke-width="1.85" fill="none"/>
<polyline points="83.60,674.10 98.27,667.10 112.95,646.35 127.62,616.16 142.30,581.13 156.97,551.21 171.65,536.93 186.32,535.58 201.00,542.05 215.68,553.91 230.35,566.04 245.03,576.55 259.70,583.01 274.38,587.33 289.05,590.83 303.73,593.79 318.40,594.06 333.08,594.33 347.75,598.38 362.42,603.23 377.10,608.62" stroke="#dd8130" stroke-width="3.4" fill="none" stroke-linejoin="round" stroke-linecap="butt"/>
<line x1="69.00" y1="459.70" x2="69.00" y2="678.40" stroke="#000" stroke-width="3.2" stroke-linecap="butt"/>
<line x1="67.40" y1="676.80" x2="391.60" y2="676.80" stroke="#000" stroke-width="3.2" stroke-linecap="butt"/>
<line x1="60.60" y1="461.20" x2="69.00" y2="461.20" stroke="#000" stroke-width="3.0" stroke-linecap="butt"/>
<text x="57.00" y="466.40" font-size="14.3" text-anchor="end" font-weight="normal" >80</text>
<line x1="60.60" y1="515.10" x2="69.00" y2="515.10" stroke="#000" stroke-width="3.0" stroke-linecap="butt"/>
<text x="57.00" y="520.30" font-size="14.3" text-anchor="end" font-weight="normal" >60</text>
<line x1="60.60" y1="569.00" x2="69.00" y2="569.00" stroke="#000" stroke-width="3.0" stroke-linecap="butt"/>
<text x="57.00" y="574.20" font-size="14.3" text-anchor="end" font-weight="normal" >40</text>
<line x1="60.60" y1="622.90" x2="69.00" y2="622.90" stroke="#000" stroke-width="3.0" stroke-linecap="butt"/>
<text x="57.00" y="628.10" font-size="14.3" text-anchor="end" font-weight="normal" >20</text>
<line x1="60.60" y1="676.80" x2="69.00" y2="676.80" stroke="#000" stroke-width="3.0" stroke-linecap="butt"/>
<text x="58.40" y="682.00" font-size="14.3" text-anchor="end" font-weight="normal" >0</text>
<line x1="83.60" y1="676.80" x2="83.60" y2="685.10" stroke="#000" stroke-width="3.0" stroke-linecap="butt"/>
<text transform="translate(87.80,692.10) rotate(-45)" font-size="14.3" text-anchor="end">0</text>
<line x1="112.95" y1="676.80" x2="112.95" y2="685.10" stroke="#000" stroke-width="3.0" stroke-linecap="butt"/>
<text transform="translate(114.15,693.20) rotate(-45)" font-size="14.3" text-anchor="end">20</text>
<line x1="142.30" y1="676.80" x2="142.30" y2="685.10" stroke="#000" stroke-width="3.0" stroke-linecap="butt"/>
<text transform="translate(143.70,692.90) rotate(-45)" font-size="14.3" text-anchor="end">50</text>
<line x1="171.65" y1="676.80" x2="171.65" y2="685.10" stroke="#000" stroke-width="3.0" stroke-linecap="butt"/>
<text transform="translate(172.35,693.20) rotate(-45)" font-size="14.3" text-anchor="end">80</text>
<line x1="201.00" y1="676.80" x2="201.00" y2="685.10" stroke="#000" stroke-width="3.0" stroke-linecap="butt"/>
<text transform="translate(202.50,692.40) rotate(-45)" font-size="14.3" text-anchor="end">110</text>
<line x1="230.35" y1="676.80" x2="230.35" y2="685.10" stroke="#000" stroke-width="3.0" stroke-linecap="butt"/>
<text transform="translate(232.35,692.70) rotate(-45)" font-size="14.3" text-anchor="end">140</text>
<line x1="259.70" y1="676.80" x2="259.70" y2="685.10" stroke="#000" stroke-width="3.0" stroke-linecap="butt"/>
<text transform="translate(262.10,692.90) rotate(-45)" font-size="14.3" text-anchor="end">170</text>
<line x1="289.05" y1="676.80" x2="289.05" y2="685.10" stroke="#000" stroke-width="3.0" stroke-linecap="butt"/>
<text transform="translate(291.85,693.20) rotate(-45)" font-size="14.3" text-anchor="end">200</text>
<line x1="318.40" y1="676.80" x2="318.40" y2="685.10" stroke="#000" stroke-width="3.0" stroke-linecap="butt"/>
<text transform="translate(322.20,693.40) rotate(-45)" font-size="14.3" text-anchor="end">230</text>
<line x1="347.75" y1="676.80" x2="347.75" y2="685.10" stroke="#000" stroke-width="3.0" stroke-linecap="butt"/>
<text transform="translate(352.55,693.40) rotate(-45)" font-size="14.3" text-anchor="end">260</text>
<line x1="377.10" y1="676.80" x2="377.10" y2="685.10" stroke="#000" stroke-width="3.0" stroke-linecap="butt"/>
<text transform="translate(382.60,693.40) rotate(-45)" font-size="14.3" text-anchor="end">290</text>
<text transform="translate(33.6,570.2) rotate(-90)" font-size="15" text-anchor="middle">fluorescence intensity (a.u.)</text>
<text x="235.40" y="729.80" font-size="14.8" text-anchor="middle" font-weight="normal" >time (sec)</text>
<text x="0.90" y="452.70" font-size="15" text-anchor="start" font-weight="bold" >G</text>
<text x="383.70" y="621.40" font-size="14" text-anchor="start" font-weight="normal" >ns</text>
<line x1="371.00" y1="442.90" x2="385.60" y2="442.90" stroke="#000000" stroke-width="3.0" stroke-linecap="butt"/>
<text x="394.70" y="447.00" font-size="14.8" text-anchor="start" font-weight="normal" >Control</text>
<line x1="371.00" y1="461.80" x2="385.60" y2="461.80" stroke="#2c12ee" stroke-width="3.0" stroke-linecap="butt"/>
<text x="394.70" y="465.90" font-size="14.8" text-anchor="start" font-weight="normal" >rotenone</text>
<line x1="371.00" y1="480.70" x2="385.60" y2="480.70" stroke="#d624f0" stroke-width="3.0" stroke-linecap="butt"/>
<text x="394.70" y="484.80" font-size="14.8" text-anchor="start" font-weight="normal" >malonate</text>
<line x1="371.00" y1="499.60" x2="385.60" y2="499.60" stroke="#cf1f24" stroke-width="3.0" stroke-linecap="butt"/>
<text x="394.70" y="503.70" font-size="14.8" text-anchor="start" font-weight="normal" >antimycin A</text>
<line x1="371.00" y1="518.50" x2="385.60" y2="518.50" stroke="#6d1680" stroke-width="3.0" stroke-linecap="butt"/>
<text x="394.70" y="522.60" font-size="14.8" text-anchor="start" font-weight="normal" >sodium azide</text>
<line x1="371.00" y1="537.40" x2="385.60" y2="537.40" stroke="#dd8130" stroke-width="3.0" stroke-linecap="butt"/>
<text x="394.70" y="541.50" font-size="14.8" text-anchor="start" font-weight="normal" >oligomycin</text>
</g>
</svg>
</body></html>
